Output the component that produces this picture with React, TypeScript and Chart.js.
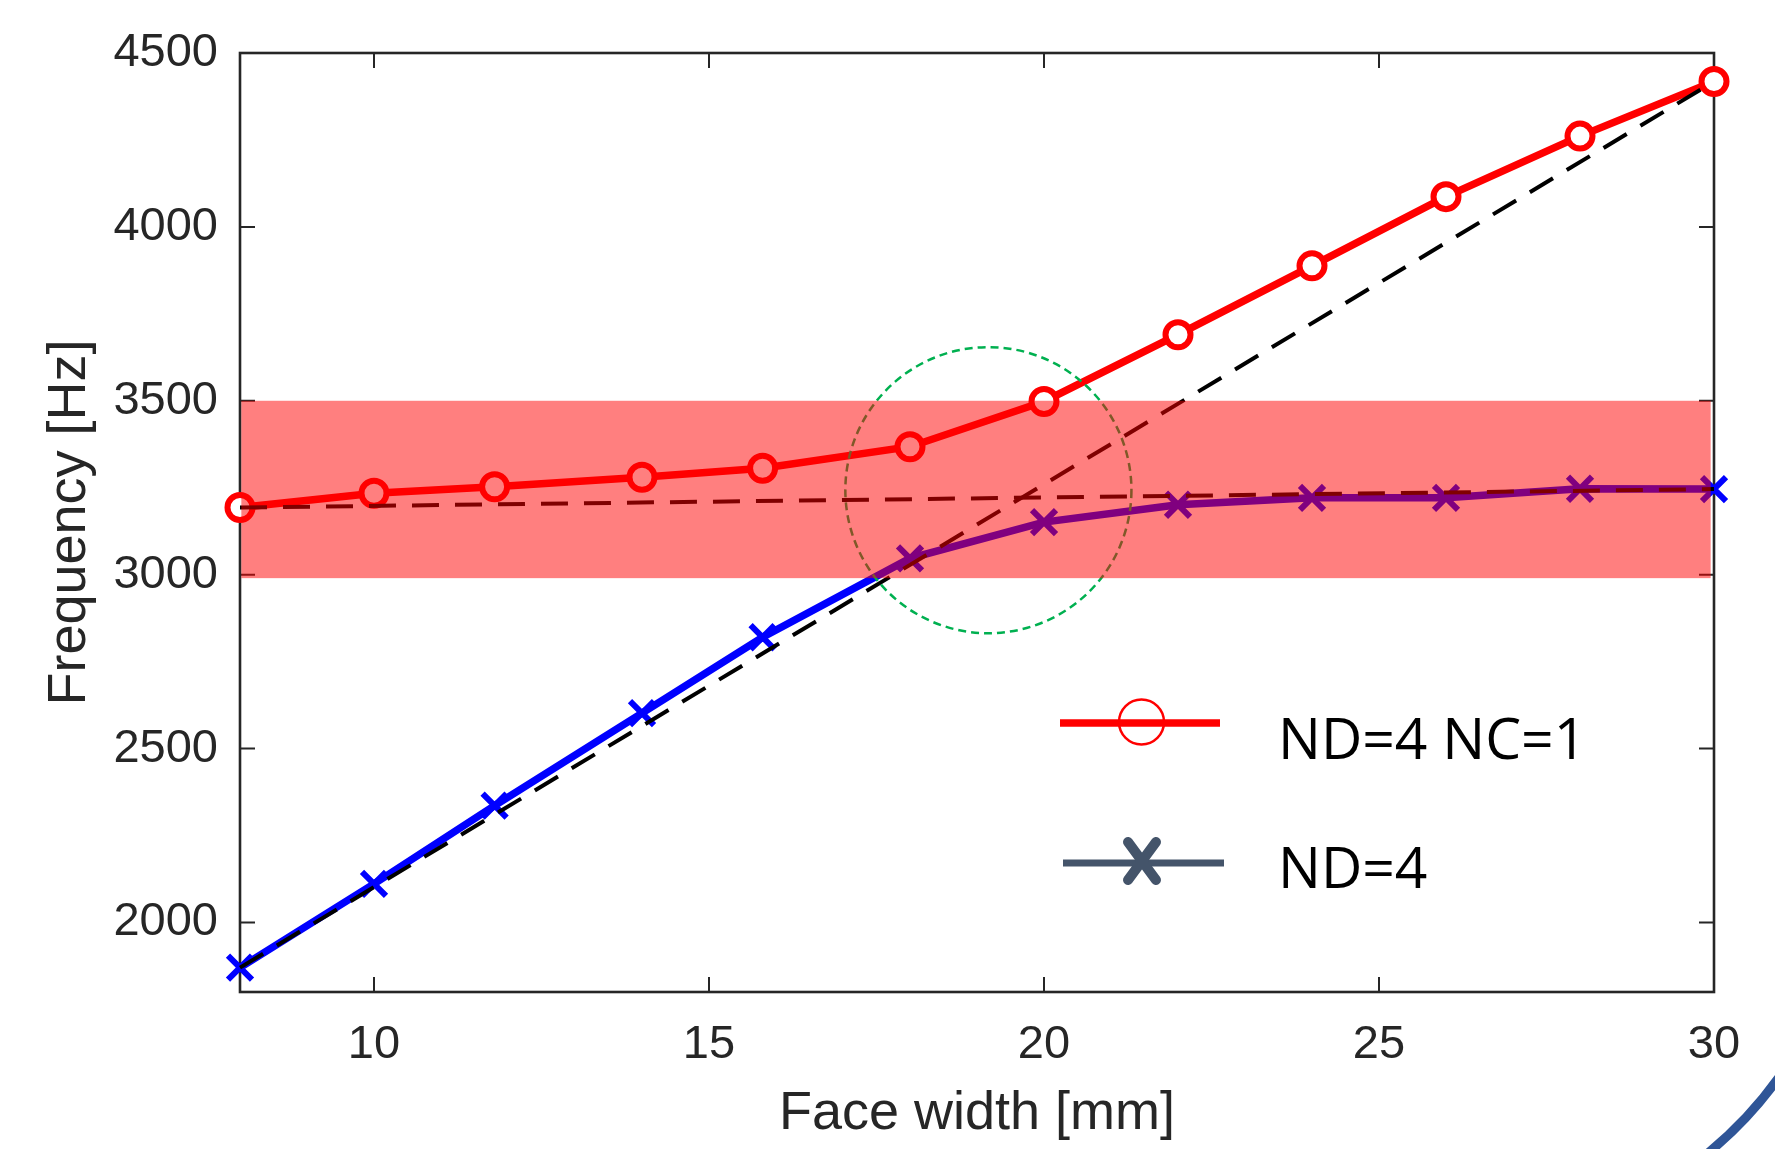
import React, { useEffect, useRef } from 'react';
import { Chart, registerables } from 'chart.js';

Chart.register(...registerables);

// ---- data ----
const FACE_WIDTH = [8, 10, 11.8, 14, 15.8, 18, 20, 22, 24, 26, 28, 30];
const FREQ_ND4_NC1 = [3193, 3234, 3253, 3280, 3306, 3368, 3498, 3690, 3888, 4087, 4261, 4418];
const FREQ_ND4 = [1870, 2111, 2336, 2602, 2820, 3047, 3151, 3201, 3221, 3221, 3247, 3246];

// uncoupled asymptotes (dashed)
const DASH_A_X = [8, 30];
const DASH_A_Y = [1870, 4418];
const DASH_B_X = [8, 30];
const DASH_B_Y = [3193, 3246];

const X_TICKS = [10, 15, 20, 25, 30];
const Y_TICKS = [2000, 2500, 3000, 3500, 4000, 4500];

// highlighted frequency band and coupling circle
const BAND_X = [8.02, 29.95];
const BAND_Y = [2990, 3500];
const CIRCLE_X = 19.17;
const CIRCLE_Y = 3243;
const CIRCLE_R_X = 2.135;

const SERIES_LABELS = ['ND=4 NC=1', 'ND=4'];
const X_TITLE = 'Face width [mm]';
const Y_TITLE = 'Frequency [Hz]';

const AXIS_COLOR = '#262626';
const FONT = '"Liberation Sans", Arial, Helvetica, sans-serif';

const toXY = (xs: number[], ys: number[]) => xs.map((x, i) => ({ x, y: ys[i] }));

const framePlugin = {
  id: 'frame',
  beforeDatasetsDraw(chart: any) {
    const { ctx, chartArea, scales } = chart;
    const { left, right, top, bottom } = chartArea;
    ctx.save();
    ctx.strokeStyle = AXIS_COLOR;
    ctx.lineWidth = 2.6;
    ctx.strokeRect(left, top, right - left, bottom - top);
    ctx.lineWidth = 2;
    const tl = 15;
    ctx.beginPath();
    for (const v of X_TICKS) {
      const px = scales.x.getPixelForValue(v);
      ctx.moveTo(px, bottom);
      ctx.lineTo(px, bottom - tl);
      ctx.moveTo(px, top);
      ctx.lineTo(px, top + tl);
    }
    for (const v of Y_TICKS) {
      const py = scales.y.getPixelForValue(v);
      ctx.moveTo(left, py);
      ctx.lineTo(left + tl, py);
      ctx.moveTo(right, py);
      ctx.lineTo(right - tl, py);
    }
    ctx.stroke();
    ctx.restore();
  },
  afterDatasetsDraw(chart: any) {
    const { ctx, scales } = chart;
    const xs = scales.x;
    const ys = scales.y;
    ctx.save();
    // green dashed circle
    const cx = xs.getPixelForValue(CIRCLE_X);
    const cy = ys.getPixelForValue(CIRCLE_Y);
    const r = Math.abs(xs.getPixelForValue(CIRCLE_X + CIRCLE_R_X) - cx);
    ctx.strokeStyle = '#00B050';
    ctx.lineWidth = 2.5;
    ctx.setLineDash([8, 5]);
    ctx.beginPath();
    ctx.arc(cx, cy, r, 0, Math.PI * 2);
    ctx.stroke();
    ctx.setLineDash([]);
    // semi-transparent red band on top
    const x0 = xs.getPixelForValue(BAND_X[0]);
    const x1 = xs.getPixelForValue(BAND_X[1]);
    const y0 = ys.getPixelForValue(BAND_Y[1]);
    const y1 = ys.getPixelForValue(BAND_Y[0]);
    ctx.fillStyle = 'rgba(255,0,0,0.5)';
    ctx.fillRect(x0, y0, x1 - x0, y1 - y0);
    ctx.restore();
  },
  afterDraw(chart: any) {
    const { ctx } = chart;
    ctx.save();
    // legend
    ctx.lineCap = 'butt';
    // item 1
    ctx.strokeStyle = '#FF0000';
    ctx.lineWidth = 7.5;
    ctx.beginPath();
    ctx.moveTo(1060, 723);
    ctx.lineTo(1220, 723);
    ctx.stroke();
    ctx.lineWidth = 2.5;
    ctx.beginPath();
    ctx.arc(1141.5, 722, 22.5, 0, Math.PI * 2);
    ctx.stroke();
    // item 2
    ctx.strokeStyle = '#44546A';
    ctx.lineWidth = 7;
    ctx.beginPath();
    ctx.moveTo(1063, 863);
    ctx.lineTo(1224, 863);
    ctx.stroke();
    ctx.lineWidth = 10;
    ctx.lineCap = 'round';
    ctx.beginPath();
    ctx.moveTo(1128, 842);
    ctx.lineTo(1156, 880);
    ctx.moveTo(1156, 842);
    ctx.lineTo(1128, 880);
    ctx.stroke();
    ctx.fillStyle = '#000000';
    ctx.font = '57px "Open Sans", "Noto Sans", sans-serif';
    ctx.textAlign = 'left';
    ctx.textBaseline = 'alphabetic';
    ctx.fillText(SERIES_LABELS[0], 1278, 759);
    ctx.fillText(SERIES_LABELS[1], 1278, 888);
    // decorative slide arc at bottom-right
    ctx.strokeStyle = '#2F5597';
    ctx.lineWidth = 9;
    ctx.lineCap = 'butt';
    ctx.beginPath();
    ctx.arc(1454, 844, 400, 0.55, 0.95);
    ctx.stroke();
    ctx.restore();
  },
};

export default function App() {
  const ref = useRef<HTMLCanvasElement | null>(null);
  useEffect(() => {
    document.body.style.margin = '0';
    const canvas = ref.current;
    if (!canvas) return;
    const chart = new Chart(canvas, {
      type: 'line',
      data: {
        datasets: [
          {
            label: 'dashA',
            data: toXY(DASH_A_X, DASH_A_Y),
            borderColor: '#000000',
            borderWidth: 4,
            borderDash: [27, 16],
            pointRadius: 0,
            fill: false,
            clip: false,
          } as any,
          {
            label: 'dashB',
            data: toXY(DASH_B_X, DASH_B_Y),
            borderColor: '#000000',
            borderWidth: 4,
            borderDash: [27, 16],
            pointRadius: 0,
            fill: false,
            clip: false,
          } as any,
          {
            label: SERIES_LABELS[0],
            data: toXY(FACE_WIDTH, FREQ_ND4_NC1),
            borderColor: '#FF0000',
            borderWidth: 7.5,
            pointStyle: 'circle',
            pointRadius: 12.5,
            pointBorderWidth: 6,
            pointBorderColor: '#FF0000',
            pointBackgroundColor: '#FFFFFF',
            fill: false,
            clip: false,
          } as any,
          {
            label: SERIES_LABELS[1],
            data: toXY(FACE_WIDTH, FREQ_ND4),
            borderColor: '#0000FF',
            borderWidth: 7.5,
            pointStyle: 'crossRot',
            pointRadius: 17,
            pointBorderWidth: 6,
            pointBorderColor: '#0000FF',
            pointBackgroundColor: '#0000FF',
            fill: false,
            clip: false,
          } as any,
        ],
      },
      options: {
        animation: false,
        responsive: false,
        maintainAspectRatio: false,
        events: [],
        layout: { padding: { left: 0, top: 53, right: 61, bottom: 0 } },
        plugins: {
          legend: { display: false },
          tooltip: { enabled: false },
        },
        scales: {
          x: {
            type: 'linear',
            position: 'bottom',
            min: 8,
            max: 30,
            afterBuildTicks: (s: any) => {
              s.ticks = X_TICKS.map((v) => ({ value: v }));
            },
            afterFit: (s: any) => {
              s.height = 157;
            },
            grid: { display: false, drawTicks: false },
            border: { display: false },
            ticks: {
              padding: 25,
              autoSkip: false,
              maxRotation: 0,
              color: AXIS_COLOR,
              font: { family: FONT, size: 47 },
              callback: (v: any) => String(v),
            },
            title: {
              display: true,
              text: X_TITLE,
              color: AXIS_COLOR,
              font: { family: FONT, size: 54 },
              padding: { top: 0, bottom: 2 },
            },
          },
          y: {
            type: 'linear',
            position: 'left',
            min: 1800,
            max: 4500,
            afterBuildTicks: (s: any) => {
              s.ticks = Y_TICKS.map((v) => ({ value: v }));
            },
            afterFit: (s: any) => {
              s.width = 240;
            },
            grid: { display: false, drawTicks: false },
            border: { display: false },
            ticks: {
              padding: 22,
              autoSkip: false,
              color: AXIS_COLOR,
              font: { family: FONT, size: 47 },
              callback: (v: any) => String(v),
            },
            title: {
              display: true,
              text: Y_TITLE,
              color: AXIS_COLOR,
              font: { family: FONT, size: 54 },
              padding: { top: 38, bottom: 0 },
            },
          },
        },
      } as any,
      plugins: [framePlugin],
    });
    return () => chart.destroy();
  }, []);
  return (
    <div style={{ width: 1775, height: 1149, background: '#ffffff' }}>
      <canvas ref={ref} width={1775} height={1149} style={{ display: 'block' }} />
    </div>
  );
}
